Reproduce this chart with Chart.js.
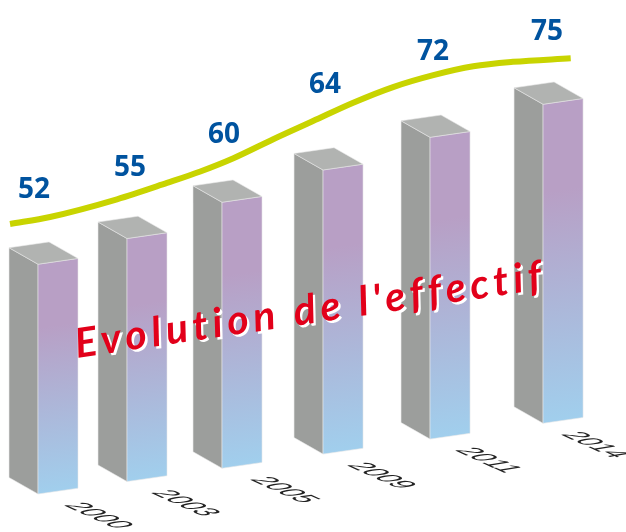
<!DOCTYPE html>
<html>
<head>
<meta charset="utf-8">
<title>Evolution de l'effectif</title>
<script src="https://cdn.jsdelivr.net/npm/chart.js@4"></script>
<style>
    body { margin: 0; background: #fff; }
    canvas { display: block; }
</style>
</head>
<body>
<canvas id="chart" width="626" height="532"></canvas>
<script>
const titleText = "Evolution de l'effectif";
const years = ['2000', '2003', '2005', '2009', '2011', '2014'];
const effectif = [52, 55, 60, 64, 72, 75];
// bar heights, the printed numbers are not quite to scale
const barLevels = [52.0, 55.0, 60.2, 64.3, 68.3, 72.2];
// the yellow curve, position is in bar units (0 = first bar, 5 = last bar)
const curvePositions = [-0.395, 0.075, 0.83, 1.37, 1.72, 2.06, 2.46, 2.85, 3.23, 3.61, 3.98, 4.34, 4.69, 5.19];
const curveLevels = [61.1, 62.7, 66.7, 70.4, 73.0, 76.0, 80.3, 84.4, 88.5, 92.1, 94.8, 96.8, 97.8, 98.6];

const BASE_SLOPE = 0.14;
const LEFT_FACE = 29;
const RIGHT_FACE = 40;
const LEFT_DROP = 16.5;
const RIGHT_RISE = 5.8;
// the hand placed texts of the original do not sit quite regularly
const NUMBER_NUDGE = [[-5, 0], [2, 1], [1, 1], [1, -2], [2, 5], [3, 1]];
const YEAR_NUDGE = [1, -1, 3, -1, 0, -7];

// bars get wider apart towards the right, as in the perspective of the picture
class PerspectiveScale extends Chart.LinearScale {
    static id = 'perspective';
    static defaults = Chart.LinearScale.defaults;

    getPixelForValue(value) {
        return super.getPixelForValue(value + 0.0349 * value * value);
    }
}
Chart.register(PerspectiveScale);

function barBoxes(chart) {
    const bars = chart.getDatasetMeta(0).data;
    const firstFront = bars[0].x - bars[0].width / 2 + LEFT_FACE;

    return bars.map((bar) => {
        const front = bar.x - bar.width / 2 + LEFT_FACE;
        const bottom = bar.base - BASE_SLOPE * (front - firstFront);
        return { front, bottom, top: bottom - (bar.base - bar.y) };
    });
}

function fillFace(ctx, points, fill) {
    ctx.beginPath();
    points.forEach(([x, y], index) => {
        if (index === 0) ctx.moveTo(x, y);
        else ctx.lineTo(x, y);
    });
    ctx.closePath();
    ctx.fillStyle = fill;
    ctx.fill();
    ctx.strokeStyle = 'rgba(232, 232, 232, 0.8)';
    ctx.lineWidth = 0.7;
    ctx.stroke();
}

function curveYAt(chart, x) {
    const points = chart.getDatasetMeta(1).data;
    for (let index = 1; index < points.length; ++index) {
        if (x <= points[index].x) {
            const a = points[index - 1];
            const b = points[index];
            return a.y + (b.y - a.y) * (x - a.x) / (b.x - a.x);
        }
    }
    return points[points.length - 1].y;
}

const bars3d = {
    id: 'bars3d',
    beforeDatasetDraw(chart, args) {
        if (args.index !== 0) return;
        const ctx = chart.ctx;

        barBoxes(chart).forEach(({ front, bottom, top }) => {
            const left = front - LEFT_FACE;
            const right = front + RIGHT_FACE;

            fillFace(ctx, [
                [left, top - LEFT_DROP], [front, top], [front, bottom], [left, bottom - LEFT_DROP]
            ], '#9c9e9c');

            const gradient = ctx.createLinearGradient(front, top, front + BASE_SLOPE * (bottom - top), bottom);
            gradient.addColorStop(0, '#b89fc5');
            gradient.addColorStop(0.27, '#b89fc5');
            gradient.addColorStop(1, '#a0d0ee');
            fillFace(ctx, [
                [front, top], [right, top - RIGHT_RISE], [right, bottom - RIGHT_RISE], [front, bottom]
            ], gradient);

            fillFace(ctx, [
                [left, top - LEFT_DROP], [left + RIGHT_FACE, top - LEFT_DROP - RIGHT_RISE],
                [right, top - RIGHT_RISE], [front, top]
            ], '#b1b3b1');
        });
        return false;
    },
    afterDatasetsDraw(chart) {
        const ctx = chart.ctx;
        const boxes = barBoxes(chart);

        // numbers above the curve
        ctx.save();
        ctx.font = 'bold 28px "Open Sans"';
        ctx.fillStyle = '#00539f';
        ctx.textAlign = 'center';
        ctx.textBaseline = 'middle';
        boxes.forEach(({ front }, index) => {
            const [dx, dy] = NUMBER_NUDGE[index];
            ctx.fillText(String(effectif[index]), front + 1 + dx, curveYAt(chart, front) - 29 + dy);
        });
        ctx.restore();

        // years, sheared to lie on the floor
        boxes.forEach(({ front, bottom }, index) => {
            ctx.save();
            ctx.translate(front + 24 + YEAR_NUDGE[index], bottom + 11);
            ctx.transform(1.19, 0.54, -1.5, 0.25, 0, 0);
            ctx.font = '20px "Liberation Sans"';
            ctx.fillStyle = '#222';
            ctx.textBaseline = 'alphabetic';
            ctx.fillText(years[index], 0, 0);
            ctx.restore();
        });

        // title across the bars
        ctx.save();
        ctx.translate(77, 358);
        ctx.rotate(-8.4 * Math.PI / 180);
        ctx.font = 'italic bold 41px "Lato"';
        ctx.letterSpacing = '4.9px';
        ctx.fillStyle = '#fff';
        ctx.fillText(titleText, 2, 2.5);
        ctx.fillStyle = '#e2001a';
        ctx.fillText(titleText, 0, 0);
        ctx.restore();
    }
};

new Chart(
    document.getElementById('chart'),
    {
        type: 'bar',
        plugins: [bars3d],
        data: {
            datasets: [
                {
                    type: 'bar',
                    data: barLevels.map((level, index) => ({ x: index, y: level })),
                    barThickness: 69,
                },
                {
                    type: 'line',
                    data: curveLevels.map((level, index) => ({ x: curvePositions[index], y: level })),
                    borderColor: '#c8d400',
                    borderWidth: 6,
                    borderCapStyle: 'butt',
                    pointRadius: 0,
                    cubicInterpolationMode: 'monotone',
                    fill: false,
                }
            ]
        },
        options: {
            responsive: false,
            animation: false,
            events: [],
            plugins: {
                legend: {
                    display: false
                },
                tooltip: {
                    enabled: false
                }
            },
            scales: {
                x: {
                    type: 'perspective',
                    display: false,
                    offset: false,
                    min: -0.506,
                    max: 6.773
                },
                y: {
                    display: false,
                    min: -8.6,
                    max: 111.8
                }
            }
        }
    }
);
</script>
</body>
</html>
